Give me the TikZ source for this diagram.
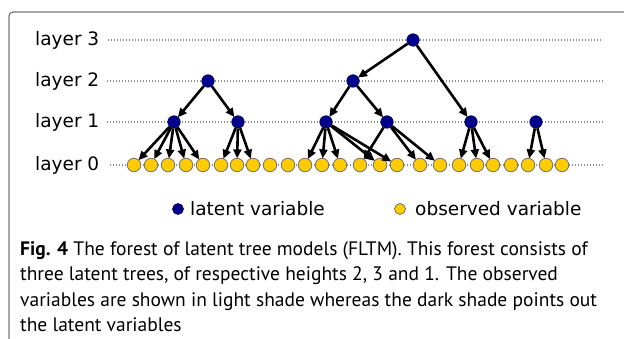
\documentclass[tikz,border=0pt]{standalone}
\usepackage{fontspec}
\setmainfont{PT Sans}
\newfontfamily\figfont{DejaVu Sans}
\usetikzlibrary{arrows.meta}

\definecolor{latentblue}{RGB}{0,0,140}
\definecolor{obsyellow}{RGB}{255,204,0}
\definecolor{guidegray}{RGB}{140,140,140}
\definecolor{framegray}{RGB}{120,120,120}

\begin{document}
\begin{tikzpicture}[x=1pt,y=-1pt,
    latent/.style={circle,draw=latentblue!50!black,fill=latentblue,inner sep=0pt,minimum size=12.5pt,line width=0.6pt},
    observed/.style={circle,draw=black!55,fill=obsyellow,inner sep=0pt,minimum size=13.5pt,line width=0.8pt},
    layerlabel/.style={font=\figfont\fontsize{18.5}{20}\selectfont,anchor=west,inner sep=0pt},
    captionline/.style={font=\fontsize{19.5}{25}\selectfont,anchor=base west,inner sep=0pt},
    guide/.style={guidegray,line width=1.2pt,dash pattern=on 1.2pt off 1.8pt},
    arr/.style={-{Triangle[length=9pt,width=8pt]},line width=2.6pt,black,shorten >=-0.5pt}]
    \useasboundingbox (0,0) rectangle (624,339);
    % frame
    \draw[framegray,line width=1.2pt,rounded corners=4pt] (9,339) |- (624,12);
    % layers
    \node[layerlabel] (lab3) at (35,40) {layer 3};
    \node[layerlabel] (lab2) at (35,81) {layer 2};
    \node[layerlabel] (lab1) at (35,122) {layer 1};
    \node[layerlabel] (lab0) at (35,165) {layer 0};
    \coordinate (g3s) at (108,40);  \coordinate (g3e) at (603,40);
    \coordinate (g2s) at (107,81);  \coordinate (g2e) at (604,81);
    \coordinate (g1s) at (107,122); \coordinate (g1e) at (605,122);
    \coordinate (g0s) at (110,165); \coordinate (g0e) at (603,165);
    \draw[guide] (g3s) -- (g3e);
    \draw[guide] (g2s) -- (g2e);
    \draw[guide] (g1s) -- (g1e);
    \draw[guide] (g0s) -- (g0e);
    % latent variables
    \node[latent] at (413,40) (l3) {};
    \node[latent] at (208,81) (l2a) {};
    \node[latent] at (353,81) (l2b) {};
    \node[latent] at (174,122) (l1a) {};
    \node[latent] at (238,122) (l1b) {};
    \node[latent] at (326,122) (l1c) {};
    \node[latent] at (387,122) (l1d) {};
    \node[latent] at (471,122) (l1e) {};
    \node[latent] at (536,122) (l1f) {};
    % observed variables
    \node[observed] at (134,165) (o1) {};
    \node[observed] at (151,165) (o2) {};
    \node[observed] at (168,165) (o3) {};
    \node[observed] at (186,165) (o4) {};
    \node[observed] at (203,165) (o5) {};
    \node[observed] at (221,165) (o6) {};
    \node[observed] at (237,165) (o7) {};
    \node[observed] at (253,165) (o8) {};
    \node[observed] at (270,165) (o9) {};
    \node[observed] at (288,165) (o10) {};
    \node[observed] at (305,165) (o11) {};
    \node[observed] at (322,165) (o12) {};
    \node[observed] at (340,165) (o13) {};
    \node[observed] at (360,165) (o14) {};
    \node[observed] at (380,165) (o15) {};
    \node[observed] at (397,165) (o16) {};
    \node[observed] at (420,165) (o17) {};
    \node[observed] at (440,165) (o18) {};
    \node[observed] at (459,165) (o19) {};
    \node[observed] at (477,165) (o20) {};
    \node[observed] at (493,165) (o21) {};
    \node[observed] at (511,165) (o22) {};
    \node[observed] at (528,165) (o23) {};
    \node[observed] at (546,165) (o24) {};
    \node[observed] at (562,165) (o25) {};
    % first tree
    \draw[arr] (l2a) -- (l1a);
    \draw[arr] (l2a) -- (l1b);
    \draw[arr] (l1a) -- (o1);
    \draw[arr] (l1a) -- (o2);
    \draw[arr] (l1a) -- (o3);
    \draw[arr] (l1a) -- (o4);
    \draw[arr] (l1a) -- (o5);
    \draw[arr] (l1b) -- (o6);
    \draw[arr] (l1b) -- (o7);
    \draw[arr] (l1b) -- (o8);
    % second tree
    \draw[arr] (l3) -- (l2b);
    \draw[arr] (l3) -- (l1e);
    \draw[arr] (l2b) -- (l1c);
    \draw[arr] (l2b) -- (l1d);
    \draw[arr] (l1c) -- (o11);
    \draw[arr] (l1c) -- (o12);
    \draw[arr] (l1c) -- (o13);
    \draw[arr] (l1c) -- (o15);
    \draw[arr] (l1c) -- (o16);
    \draw[arr] (l1d) -- (o14);
    \draw[arr] (l1d) -- (o17);
    \draw[arr] (l1d) -- (o18);
    \draw[arr] (l1e) -- (o19);
    \draw[arr] (l1e) -- (o20);
    \draw[arr] (l1e) -- (o21);
    % third tree
    \draw[arr] (l1f) -- (o23);
    \draw[arr] (l1f) -- (o24);
    % legend
    \node[latent,minimum size=11pt] at (178,209) (keylatent) {};
    \node[layerlabel] at (190,209) (keylatenttext) {latent variable};
    \node[observed,minimum size=11pt] at (400,209) (keyobserved) {};
    \node[layerlabel] at (415,209) (keyobservedtext) {observed variable};
    % caption
    \node[captionline] at (20,255) (cap1) {\textbf{Fig. 4} The forest of latent tree models (FLTM). This forest consists of};
    \node[captionline] at (20,280.5) (cap2) {three latent trees, of respective heights 2, 3 and 1. The observed};
    \node[captionline] at (20,306) (cap3) {variables are shown in light shade whereas the dark shade points out};
    \node[captionline] at (20,331) (cap4) {the latent variables};
\end{tikzpicture}
\end{document}
